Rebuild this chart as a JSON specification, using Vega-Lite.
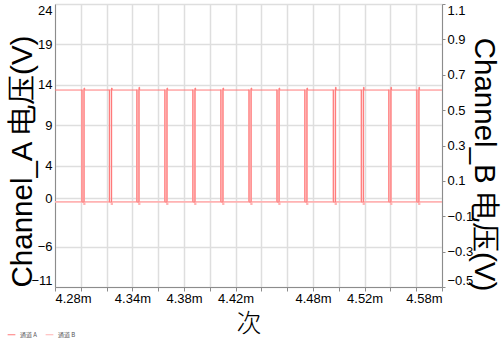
{
  "$schema": "https://vega.github.io/schema/vega-lite/v6.json",
  "width": 387,
  "height": 283,
  "autosize": {"type": "none"},
  "padding": {"left": 55, "top": 4, "right": 59, "bottom": 60},
  "background": "white",
  "config": {
    "view": {"stroke": null},
    "font": "Liberation Sans",
    "axis": {
      "domainColor": "#8c8c8c",
      "tickColor": "#8c8c8c",
      "gridColor": "#dedede",
      "gridWidth": 1.5,
      "labelColor": "#000000",
      "labelFontSize": 13,
      "labelFont": "Liberation Sans",
      "titleColor": "#000000",
      "titleFontWeight": "normal",
      "labelOverlap": false
    }
  },
  "data": {
    "values": [
      {"ch": "通道 A", "t": 4.28, "v": 13.36},
      {"ch": "通道 A", "t": 4.3009, "v": -0.49}, {"ch": "通道 A", "t": 4.3025, "v": 13.6}, {"ch": "通道 A", "t": 4.3030, "v": 13.36},
      {"ch": "通道 A", "t": 4.3222, "v": -0.49}, {"ch": "通道 A", "t": 4.3238, "v": 13.6}, {"ch": "通道 A", "t": 4.3243, "v": 13.36},
      {"ch": "通道 A", "t": 4.3435, "v": -0.49}, {"ch": "通道 A", "t": 4.3451, "v": 13.7}, {"ch": "通道 A", "t": 4.3456, "v": 13.36},
      {"ch": "通道 A", "t": 4.3652, "v": -0.49}, {"ch": "通道 A", "t": 4.3668, "v": 13.6}, {"ch": "通道 A", "t": 4.3673, "v": 13.36},
      {"ch": "通道 A", "t": 4.3869, "v": -0.49}, {"ch": "通道 A", "t": 4.3885, "v": 13.6}, {"ch": "通道 A", "t": 4.3890, "v": 13.36},
      {"ch": "通道 A", "t": 4.4086, "v": -0.49}, {"ch": "通道 A", "t": 4.4102, "v": 13.6}, {"ch": "通道 A", "t": 4.4107, "v": 13.36},
      {"ch": "通道 A", "t": 4.4304, "v": -0.49}, {"ch": "通道 A", "t": 4.4320, "v": 13.6}, {"ch": "通道 A", "t": 4.4325, "v": 13.36},
      {"ch": "通道 A", "t": 4.4521, "v": -0.49}, {"ch": "通道 A", "t": 4.4537, "v": 13.6}, {"ch": "通道 A", "t": 4.4542, "v": 13.36},
      {"ch": "通道 A", "t": 4.4737, "v": -0.49}, {"ch": "通道 A", "t": 4.4753, "v": 13.6}, {"ch": "通道 A", "t": 4.4758, "v": 13.36},
      {"ch": "通道 A", "t": 4.4958, "v": -0.49}, {"ch": "通道 A", "t": 4.4974, "v": 13.7}, {"ch": "通道 A", "t": 4.4979, "v": 13.36},
      {"ch": "通道 A", "t": 4.5175, "v": -0.49}, {"ch": "通道 A", "t": 4.5191, "v": 13.7}, {"ch": "通道 A", "t": 4.5196, "v": 13.36},
      {"ch": "通道 A", "t": 4.5388, "v": -0.49}, {"ch": "通道 A", "t": 4.5404, "v": 13.7}, {"ch": "通道 A", "t": 4.5409, "v": 13.36},
      {"ch": "通道 A", "t": 4.5605, "v": -0.49}, {"ch": "通道 A", "t": 4.5621, "v": 13.7}, {"ch": "通道 A", "t": 4.5626, "v": 13.36},
      {"ch": "通道 A", "t": 4.58, "v": 13.36},
      {"ch": "通道 B", "t": 4.28, "v": -0.019},
      {"ch": "通道 B", "t": 4.3009, "v": 0.614}, {"ch": "通道 B", "t": 4.3025, "v": -0.032}, {"ch": "通道 B", "t": 4.3030, "v": -0.019},
      {"ch": "通道 B", "t": 4.3222, "v": 0.614}, {"ch": "通道 B", "t": 4.3238, "v": -0.032}, {"ch": "通道 B", "t": 4.3243, "v": -0.019},
      {"ch": "通道 B", "t": 4.3435, "v": 0.614}, {"ch": "通道 B", "t": 4.3451, "v": -0.032}, {"ch": "通道 B", "t": 4.3456, "v": -0.019},
      {"ch": "通道 B", "t": 4.3652, "v": 0.614}, {"ch": "通道 B", "t": 4.3668, "v": -0.032}, {"ch": "通道 B", "t": 4.3673, "v": -0.019},
      {"ch": "通道 B", "t": 4.3869, "v": 0.614}, {"ch": "通道 B", "t": 4.3885, "v": -0.032}, {"ch": "通道 B", "t": 4.3890, "v": -0.019},
      {"ch": "通道 B", "t": 4.4086, "v": 0.614}, {"ch": "通道 B", "t": 4.4102, "v": -0.032}, {"ch": "通道 B", "t": 4.4107, "v": -0.019},
      {"ch": "通道 B", "t": 4.4304, "v": 0.614}, {"ch": "通道 B", "t": 4.4320, "v": -0.032}, {"ch": "通道 B", "t": 4.4325, "v": -0.019},
      {"ch": "通道 B", "t": 4.4521, "v": 0.614}, {"ch": "通道 B", "t": 4.4537, "v": -0.032}, {"ch": "通道 B", "t": 4.4542, "v": -0.019},
      {"ch": "通道 B", "t": 4.4737, "v": 0.614}, {"ch": "通道 B", "t": 4.4753, "v": -0.032}, {"ch": "通道 B", "t": 4.4758, "v": -0.019},
      {"ch": "通道 B", "t": 4.4958, "v": 0.614}, {"ch": "通道 B", "t": 4.4974, "v": -0.032}, {"ch": "通道 B", "t": 4.4979, "v": -0.019},
      {"ch": "通道 B", "t": 4.5175, "v": 0.614}, {"ch": "通道 B", "t": 4.5191, "v": -0.032}, {"ch": "通道 B", "t": 4.5196, "v": -0.019},
      {"ch": "通道 B", "t": 4.5388, "v": 0.614}, {"ch": "通道 B", "t": 4.5404, "v": -0.032}, {"ch": "通道 B", "t": 4.5409, "v": -0.019},
      {"ch": "通道 B", "t": 4.5605, "v": 0.614}, {"ch": "通道 B", "t": 4.5621, "v": -0.032}, {"ch": "通道 B", "t": 4.5626, "v": -0.019},
      {"ch": "通道 B", "t": 4.58, "v": -0.019}
    ]
  },
  "encoding": {
    "x": {
      "field": "t",
      "type": "quantitative",
      "scale": {"domain": [4.28, 4.58], "nice": false, "zero": false},
      "axis": {
        "values": [4.28, 4.30, 4.32, 4.34, 4.36, 4.38, 4.40, 4.42, 4.44, 4.46, 4.48, 4.50, 4.52, 4.54, 4.56, 4.58],
        "labelExpr": "indexof(['4.28','4.34','4.38','4.42','4.48','4.52','4.58'], format(datum.value, '.2f')) >= 0 ? format(datum.value, '.2f') + 'm' : ''",
        "labelFlush": true,
        "tickSize": 4,
        "labelPadding": 1,
        "grid": true,
        "title": "次",
        "titleFont": "Noto Sans CJK SC",
        "titleFontSize": 25,
        "titleFontWeight": 300,
        "titleY": 36,
        "titleBaseline": "middle"
      }
    },
    "color": {
      "field": "ch",
      "type": "nominal",
      "scale": {"domain": ["通道 A", "通道 B"], "range": ["#ff7a7a", "#ffb3b3"]},
      "legend": {
        "orient": "none",
        "legendX": -48,
        "legendY": 326,
        "direction": "horizontal",
        "title": null,
        "symbolType": "stroke",
        "symbolSize": 60,
        "symbolStrokeWidth": 1,
        "labelFontSize": 6,
        "labelFont": "Noto Sans CJK SC",
        "labelColor": "#555555",
        "columnPadding": 6,
        "symbolOffset": 0
      }
    }
  },
  "layer": [
    {
      "transform": [{"filter": "datum.ch == '通道 B'"}],
      "mark": {"type": "line", "interpolate": "step-after", "strokeWidth": 1.6},
      "encoding": {
        "y": {
          "field": "v",
          "type": "quantitative",
          "scale": {"domain": [-0.5, 1.1], "nice": false, "zero": false},
          "axis": {
            "orient": "right",
            "values": [-0.5, -0.3, -0.1, 0.1, 0.3, 0.5, 0.7, 0.9, 1.1],
            "format": ".1f",
            "grid": false,
            "tickSize": 3,
            "labelPadding": 2,
            "labelFlush": true,
            "title": "Channel_B 电压(V)",
            "titleFont": "Liberation Sans",
            "titleFontSize": 29.5,
            "titleAngle": 90,
            "titleX": 41,
            "titleY": 160,
            "titleAlign": "center",
            "titleBaseline": "middle"
          }
        }
      }
    },
    {
      "transform": [{"filter": "datum.ch == '通道 A'"}],
      "mark": {"type": "line", "interpolate": "step-after", "strokeWidth": 1},
      "encoding": {
        "y": {
          "field": "v",
          "type": "quantitative",
          "scale": {"domain": [-11, 24], "nice": false, "zero": false},
          "axis": {
            "orient": "left",
            "values": [-11, -6, 0, 4, 9, 14, 19, 24],
            "format": "d",
            "grid": true,
            "ticks": false,
            "labelPadding": 3,
            "labelFlush": true,
            "title": "Channel_A 电压(V)",
            "titleFont": "Liberation Sans",
            "titleFontSize": 29.5,
            "titleAngle": -90,
            "titleX": -33,
            "titleY": 157,
            "titleAlign": "center",
            "titleBaseline": "middle"
          }
        }
      }
    }
  ],
  "resolve": {"scale": {"y": "independent"}}
}
